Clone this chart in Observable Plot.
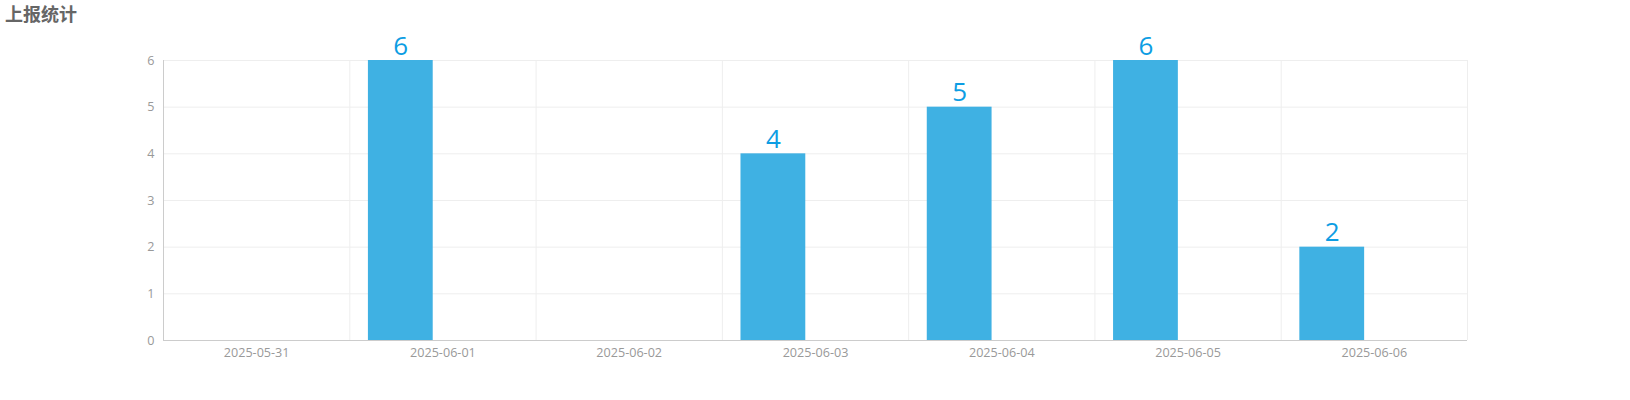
<!DOCTYPE html>
<html>
<head>
<meta charset="utf-8">
<script src="https://cdn.jsdelivr.net/npm/d3@7"></script>
<script src="https://cdn.jsdelivr.net/npm/@observablehq/plot@0.6"></script>
<style>
  html, body { margin: 0; padding: 0; background: #fff; }
  #wrap { position: relative; width: 1630px; height: 400px; }
  #title { position: absolute; left: 5px; top: 1px; font-family: "Noto Sans CJK SC", sans-serif; font-weight: bold; font-size: 18px; color: #666; line-height: 24px; }
</style>
</head>
<body>
<div id="wrap">
  <div id="title">上报统计</div>
  <div id="chart"></div>
</div>
<script>
const dates = ["2025-05-31", "2025-06-01", "2025-06-02", "2025-06-03", "2025-06-04", "2025-06-05", "2025-06-06"];
const counts = [0, 6, 0, 4, 5, 6, 2];
const yTicks = [0, 1, 2, 3, 4, 5, 6];

const data = dates.map((d, i) => ({date: d, value: counts[i]}));

const W = 1630, H = 400, ML = 163, MR = 163, MT = 60, MB = 60;
const bw = (W - ML - MR) / dates.length;
const insetL = bw * 0.1;
const barW = bw * 0.8 / 2.3;
const insetR = bw - insetL - barW;
const barCenterDx = insetL + barW / 2 - bw / 2;

const chart = Plot.plot({
  width: W,
  height: H,
  marginLeft: ML,
  marginRight: MR,
  marginTop: MT,
  marginBottom: MB,
  style: {fontFamily: "'Open Sans', sans-serif", fontSize: "12.6px", color: "#999", background: "#fff"},
  x: {domain: dates, padding: 0, round: false},
  y: {domain: [0, 6]},
  marks: [
    Plot.ruleY(yTicks, {stroke: "#eee", strokeWidth: 1}),
    Plot.ruleX(dates.slice(1), {dx: -bw / 2, stroke: "#eee"}),
    Plot.ruleX([dates[dates.length - 1]], {dx: bw / 2, stroke: "#eee"}),
    Plot.barY(data.filter(d => d.value > 0), {x: "date", y: "value", fill: "#3fb1e3", insetLeft: insetL, insetRight: insetR}),
    Plot.ruleY([0], {stroke: "#ccc"}),
    Plot.ruleX([dates[0]], {dx: -bw / 2, stroke: "#ccc"}),
    Plot.text(data.filter(d => d.value > 0), {x: "date", y: "value", text: d => String(d.value), dx: barCenterDx, dy: -6, lineAnchor: "bottom", fill: "#0d9de3", fontSize: 26}),
    Plot.axisX({tickSize: 0, tickPadding: 8, label: null, fill: "#999"}),
    Plot.axisY({ticks: yTicks, tickSize: 0, tickPadding: 9, label: null, tickFormat: d => String(d), fill: "#999"})
  ]
});
document.getElementById("chart").appendChild(chart);
</script>
</body>
</html>
